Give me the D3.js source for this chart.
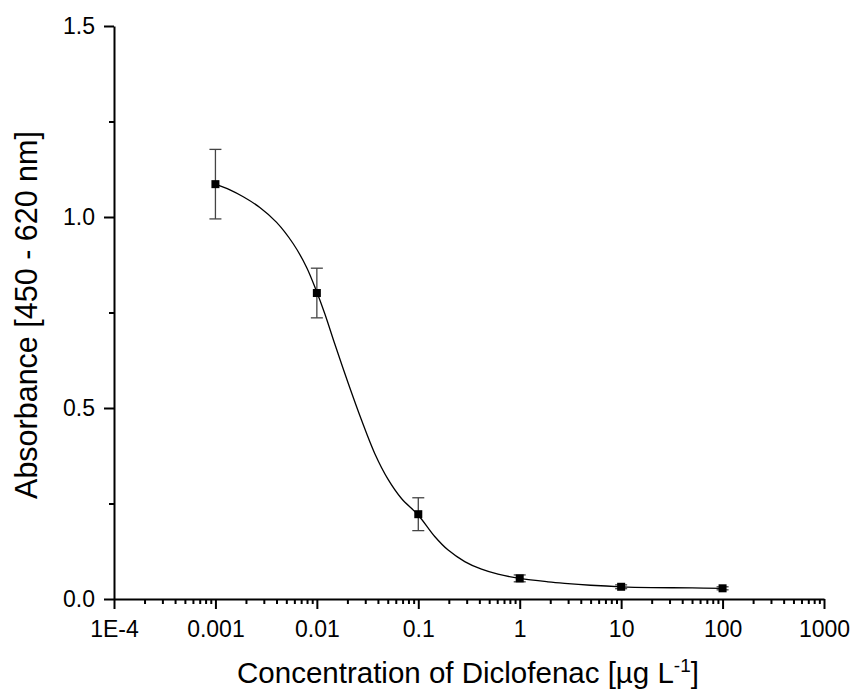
<!DOCTYPE html>
<html>
<head>
<meta charset="utf-8">
<script src="https://cdn.jsdelivr.net/npm/d3@7"></script>
<style>
  body { margin: 0; background: #fff; }
  svg text { font-family: "Liberation Sans", Arial, sans-serif; fill: #000; }
</style>
</head>
<body>
<div id="main"></div>
<script>
// measured points (concentration, absorbance, sd)
const conc = [0.001, 0.01, 0.1, 1, 10, 100];
const absorb = [1.086, 0.801, 0.222, 0.054, 0.032, 0.028];
const sd = [0.091, 0.065, 0.043, 0.009, 0.005, 0.004];

// fitted curve
const fitX = [0.001, 0.00139, 0.00188, 0.00274, 0.00401, 0.00585, 0.00793, 0.00977, 0.012, 0.015, 0.0203, 0.0275, 0.0372, 0.0504, 0.0683, 0.0996, 0.146, 0.197, 0.287, 0.42, 0.611, 1, 1.9, 2.77, 5, 10, 20, 50, 100];
const fitY = [1.086, 1.071, 1.053, 1.025, 0.986, 0.930, 0.868, 0.810, 0.746, 0.668, 0.566, 0.469, 0.381, 0.313, 0.263, 0.220, 0.163, 0.128, 0.098, 0.078, 0.065, 0.054, 0.045, 0.041, 0.036, 0.032, 0.030, 0.029, 0.028];

const xMajor = [1e-4, 1e-3, 1e-2, 1e-1, 1, 10, 100, 1000];
const xLabels = ["1E-4", "0.001", "0.01", "0.1", "1", "10", "100", "1000"];
const yMajor = [0, 0.5, 1.0, 1.5];
const yMinor = [0.25, 0.75, 1.25];

const W = 854, H = 695;
const m = {left: 114, right: 824, top: 26, bottom: 599};

const svg = d3.select("#main")
  .append("svg")
    .attr("width", W)
    .attr("height", H);

const x = d3.scaleLog().domain([1e-4, 1000]).range([m.left, m.right]);
const y = d3.scaleLinear().domain([0, 1.5]).range([m.bottom, m.top]);

// minor x ticks (2..9 of each decade)
const xMinor = x.ticks().filter(v => !xMajor.some(t => Math.abs(v / t - 1) < 1e-9));

svg.append("g")
  .attr("transform", `translate(0,${m.bottom})`)
  .call(d3.axisBottom(x).tickValues(xMinor).tickSize(5).tickFormat(""))
  .call(g => g.select(".domain").remove())
  .call(g => g.selectAll("line").attr("stroke-width", 2));

svg.append("g")
  .attr("class", "xAxis")
  .attr("transform", `translate(0,${m.bottom})`)
  .call(d3.axisBottom(x).tickValues(xMajor).tickSize(10).tickSizeOuter(0).tickPadding(12)
    .tickFormat((d, i) => xLabels[i]))
  .call(g => g.select(".domain").attr("stroke-width", 2))
  .call(g => g.selectAll("line").attr("stroke-width", 2))
  .call(g => g.selectAll("text").attr("font-size", 23));

svg.append("g")
  .attr("transform", `translate(${m.left},0)`)
  .call(d3.axisLeft(y).tickValues(yMinor).tickSize(5).tickFormat(""))
  .call(g => g.select(".domain").remove())
  .call(g => g.selectAll("line").attr("stroke-width", 2));

svg.append("g")
  .attr("class", "yAxis")
  .attr("transform", `translate(${m.left},0)`)
  .call(d3.axisLeft(y).tickValues(yMajor).tickSize(10).tickSizeOuter(0).tickPadding(9)
    .tickFormat(d3.format(".1f")))
  .call(g => g.select(".domain").attr("stroke-width", 2))
  .call(g => g.selectAll("line").attr("stroke-width", 2))
  .call(g => g.selectAll("text").attr("font-size", 23));

// fit line
const fit = fitX.map((v, i) => ({x: v, y: fitY[i]}));
svg.append("path")
  .datum(fit)
  .attr("fill", "none")
  .attr("stroke", "#000")
  .attr("stroke-width", 1.3)
  .attr("d", d3.line()
    .x(d => x(d.x))
    .y(d => y(d.y))
    .curve(d3.curveCatmullRom.alpha(0.5)));

// error bars
const pts = conc.map((c, i) => ({c: c, a: absorb[i], e: sd[i]}));
const eb = svg.append("g").attr("stroke", "#444").attr("stroke-width", 1.3);
eb.selectAll(".bar").data(pts).join("line")
  .attr("class", "bar")
  .attr("x1", d => x(d.c)).attr("x2", d => x(d.c))
  .attr("y1", d => y(d.a + d.e)).attr("y2", d => y(d.a - d.e));
eb.selectAll(".capT").data(pts).join("line")
  .attr("class", "capT")
  .attr("x1", d => x(d.c) - 6).attr("x2", d => x(d.c) + 6)
  .attr("y1", d => y(d.a + d.e)).attr("y2", d => y(d.a + d.e));
eb.selectAll(".capB").data(pts).join("line")
  .attr("class", "capB")
  .attr("x1", d => x(d.c) - 6).attr("x2", d => x(d.c) + 6)
  .attr("y1", d => y(d.a - d.e)).attr("y2", d => y(d.a - d.e));

// markers
svg.append("g").selectAll("rect").data(pts).join("rect")
  .attr("x", d => x(d.c) - 4)
  .attr("y", d => y(d.a) - 4)
  .attr("width", 8)
  .attr("height", 8)
  .attr("fill", "#000");

// axis titles
const xt = svg.append("text")
  .attr("x", 468)
  .attr("y", 683)
  .attr("text-anchor", "middle")
  .attr("font-size", 29.5);
xt.append("tspan").text("Concentration of Diclofenac [µg L");
xt.append("tspan").attr("font-size", 19).attr("dy", -11).text("-1");
xt.append("tspan").attr("dy", 11).text("]");

svg.append("text")
  .attr("transform", `translate(37,${315}) rotate(-90)`)
  .attr("text-anchor", "middle")
  .attr("font-size", 30.5)
  .text("Absorbance [450 - 620 nm]");
</script>
</body>
</html>
